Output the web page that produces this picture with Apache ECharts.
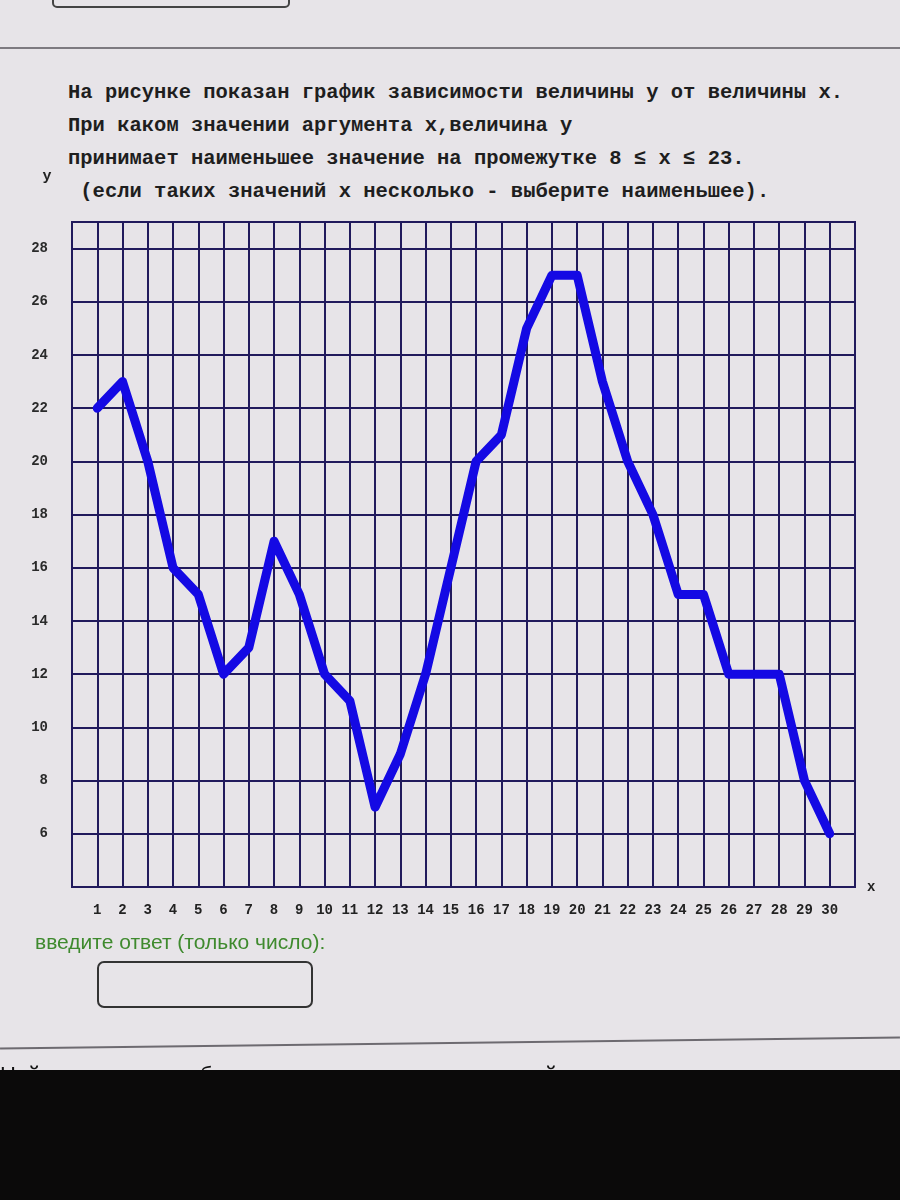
<!DOCTYPE html>
<html>
<head>
<meta charset="utf-8">
<script src="https://cdn.jsdelivr.net/npm/echarts@6/dist/echarts.min.js"></script>
<style>
  html, body { margin: 0; padding: 0; }
  body { width: 900px; height: 1200px; position: relative; overflow: hidden; background: #e7e4e8; }
  #chart { position: absolute; left: 0; top: 0; width: 900px; height: 1200px; }
  .q { position: absolute; left: 68px; top: 76px; font-family: "Liberation Mono", "DejaVu Sans Mono", monospace;
       font-size: 20.5px; line-height: 33px; color: #1e1e1e; font-weight: bold; white-space: pre; }
  .ans { position: absolute; left: 35px; top: 930px; font-family: "Liberation Sans Narrow", "Liberation Sans", sans-serif;
         font-size: 21px; color: #3f8a2e; }
  .box { position: absolute; left: 97px; top: 961px; width: 212px; height: 43px; border: 2px solid #333; border-radius: 7px; }
  .topbox { position: absolute; left: 52px; top: -10px; width: 234px; height: 14px; border: 2px solid #444; border-radius: 5px; }
  .sep1 { position: absolute; left: 0; top: 47px; width: 900px; height: 2px; background: #7d7a80; }
  .sep2 { position: absolute; left: 0; top: 1042px; width: 900px; height: 2px; background: #6d6a70; transform: rotate(-0.7deg); }
  .next { position: absolute; left: 0; top: 1062px; font-family: "Liberation Sans", sans-serif; font-size: 22px; color: #111; }
  .black { position: absolute; left: 0; top: 1070px; width: 900px; height: 130px; background: #0b0a0a; }
</style>
</head>
<body>
<div class="topbox"></div>
<div class="sep1"></div>
<div class="q">На рисунке показан график зависимости величины y от величины x.
При каком значении аргумента x,величина y
принимает наименьшее значение на промежутке 8 ≤ x ≤ 23.
 (если таких значений x несколько - выберите наименьшее).</div>
<div id="chart"></div>
<div class="ans">введите ответ (только число):</div>
<div class="box"></div>
<div class="sep2"></div>
<div class="next">Найдите сумму наибольшего и наименьшего решений</div>
<div class="black"></div>
<script>
var chart = echarts.init(document.getElementById('chart'), null, {renderer: 'canvas'});

// значения аргумента x
var xValues = [1, 2, 3, 4, 5, 6, 7, 8, 9, 10, 11, 12, 13, 14, 15,
               16, 17, 18, 19, 20, 21, 22, 23, 24, 25, 26, 27, 28, 29, 30];
// значения величины y
var yValues = [22, 23, 20, 16, 15, 12, 13, 17, 15, 12, 11, 7, 9, 12, 16,
               20, 21, 25, 27, 27, 23, 20, 18, 15, 15, 12, 12, 12, 8, 6];
// подписи осей
var xTickLabels = xValues.map(String);
var yTickLabels = ['6', '8', '10', '12', '14', '16', '18', '20', '22', '24', '26', '28'];

var points = [];
for (var i = 0; i < xValues.length; i++) {
    points.push([xValues[i], yValues[i]]);
}

var gridColor = '#211a5c';

option = {
    backgroundColor: 'transparent',
    animation: false,
    grid: {
        left: 72, right: 45, top: 222, bottom: 313,
        show: true, borderColor: gridColor, borderWidth: 2
    },
    xAxis: {
        type: 'value',
        min: 0, max: 31, interval: 1,
        name: 'x',
        nameGap: 12,
        nameTextStyle: { fontFamily: 'Liberation Mono', fontWeight: 'bold', fontSize: 14, color: '#222', padding: [0, 0, 18, 0] },
        axisLine: { show: false },
        axisTick: { show: false },
        splitLine: { lineStyle: { color: gridColor, width: 2 } },
        axisLabel: {
            margin: 16,
            fontFamily: 'Liberation Mono', fontWeight: 'bold', fontSize: 14, color: '#222',
            formatter: function (v) {
                var s = String(v);
                return xTickLabels.indexOf(s) >= 0 ? s : '';
            }
        }
    },
    yAxis: {
        type: 'value',
        min: 4, max: 29, interval: 2,
        name: 'y',
        nameGap: 38,
        nameTextStyle: { fontFamily: 'Liberation Mono', fontWeight: 'bold', fontSize: 15, color: '#222', padding: [0, 50, 0, 0] },
        axisLine: { show: false },
        axisTick: { show: false },
        splitLine: { lineStyle: { color: gridColor, width: 2 } },
        axisLabel: {
            margin: 24,
            fontFamily: 'Liberation Mono', fontWeight: 'bold', fontSize: 14, color: '#2a2a2a',
            formatter: function (v) {
                var s = String(v);
                return yTickLabels.indexOf(s) >= 0 ? s : '';
            }
        }
    },
    series: [
        {
            type: 'line',
            data: points,
            symbol: 'none',
            lineStyle: { color: '#1409e4', width: 9, join: 'round', cap: 'round' }
        }
    ]
};

chart.setOption(option);
</script>
</body>
</html>
